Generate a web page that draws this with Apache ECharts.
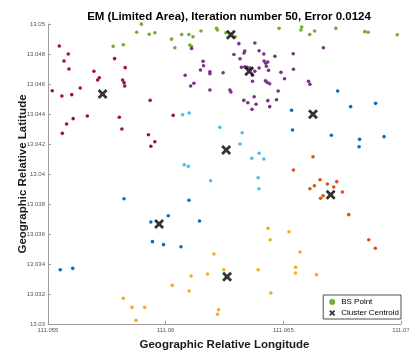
<!DOCTYPE html>
<html><head><meta charset="utf-8">
<script src="https://cdn.jsdelivr.net/npm/echarts@6/dist/echarts.min.js"></script>
<style>html,body{margin:0;padding:0;background:#fff}#c{width:409px;height:354px}</style>
</head><body><div id="c"></div>
<script>
var titleText = 'EM (Limited Area), Iteration number 50, Error 0.0124';
var xLabel = 'Geographic Relative Longitude';
var yLabel = 'Geographic Relative Latitude';
var legendNames = ['BS Point', 'Cluster Centroid'];

var greenPts = [[111.05897,13.04999],[111.05877,13.04945],[111.0593,13.04932],[111.05954,13.04942],[111.05777,13.04851],[111.0582,13.04862],[111.06025,13.04899],[111.06068,13.0493],[111.06099,13.0493],[111.06116,13.04915],[111.0615,13.04953],[111.06216,13.04971],[111.0622,13.0496],[111.06039,13.04842],[111.06103,13.04859],[111.0611,13.0485],[111.06256,13.04942],[111.06296,13.04915],[111.06482,13.04971],[111.06578,13.0498],[111.06575,13.0496],[111.06612,13.0493],[111.06633,13.04953],[111.06723,13.04971],[111.06846,13.04949],[111.0686,13.04945],[111.06984,13.04928]];

var purplePts = [[111.0611,13.04837],[111.06311,13.04869],[111.06379,13.04873],[111.0629,13.04797],[111.06336,13.0482],[111.06333,13.04807],[111.06397,13.04822],[111.06417,13.048],[111.06464,13.04785],[111.06316,13.04768],[111.06159,13.04751],[111.06161,13.04722],[111.06148,13.04693],[111.06188,13.04682],[111.06188,13.04669],[111.06244,13.04675],[111.06083,13.04658],[111.06322,13.04711],[111.06336,13.04715],[111.06346,13.04711],[111.06359,13.04707],[111.06379,13.04685],[111.06397,13.04707],[111.06418,13.04753],[111.06425,13.04738],[111.06434,13.04747],[111.06428,13.04718],[111.06437,13.04691],[111.0649,13.04678],[111.06505,13.04635],[111.06369,13.04658],[111.06369,13.04618],[111.06424,13.04622],[111.06431,13.04611],[111.06442,13.04602],[111.0612,13.04605],[111.06106,13.04587],[111.06188,13.0456],[111.06273,13.0456],[111.06277,13.04547],[111.06478,13.04553],[111.06332,13.04491],[111.06349,13.04475],[111.06376,13.04515],[111.06384,13.04465],[111.06434,13.04489],[111.06471,13.04495],[111.06367,13.04431],[111.06442,13.04449],[111.06542,13.04802],[111.0667,13.04842],[111.06543,13.04698],[111.06607,13.04618],[111.06613,13.04598]];

var redPts = [[111.05548,13.04853],[111.05586,13.048],[111.05568,13.04753],[111.05589,13.047],[111.05695,13.04685],[111.05718,13.04642],[111.05711,13.04627],[111.05783,13.04769],[111.05828,13.04709],[111.05817,13.04627],[111.05823,13.04609],[111.05826,13.04587],[111.05518,13.04555],[111.05559,13.0452],[111.05601,13.04529],[111.05637,13.04573],[111.05934,13.04491],[111.05667,13.04387],[111.05607,13.04369],[111.05579,13.04333],[111.05803,13.04378],[111.05814,13.043],[111.05561,13.04271],[111.05927,13.04262],[111.05954,13.04215],[111.05937,13.04185],[111.06032,13.04391]];

var blueEastPts = [[111.06731,13.04553],[111.06535,13.04425],[111.06786,13.04449],[111.06892,13.04471],[111.06539,13.04293],[111.06704,13.04258],[111.06824,13.04231],[111.06822,13.04182],[111.06928,13.04249]];

var blueWestPts = [[111.05823,13.03835],[111.05937,13.0368],[111.06011,13.03722],[111.05944,13.03549],[111.05991,13.03529],[111.05552,13.03362],[111.05605,13.03371],[111.06099,13.03825],[111.06144,13.03687],[111.06065,13.03515]];

var cyanPts = [[111.06072,13.04395],[111.061,13.04407],[111.0623,13.04311],[111.06325,13.04275],[111.06316,13.042],[111.06397,13.04138],[111.06366,13.04105],[111.06417,13.041],[111.06079,13.04062],[111.06096,13.04051],[111.06191,13.03955],[111.06393,13.03975],[111.06396,13.03902]];

var orangePts = [[111.06626,13.04115],[111.06543,13.04027],[111.06656,13.03962],[111.06687,13.03933],[111.06727,13.03949],[111.06714,13.03913],[111.06632,13.03922],[111.06613,13.03902],[111.06751,13.0388],[111.06669,13.03855],[111.06658,13.03838],[111.06778,13.03729],[111.06863,13.03562],[111.06891,13.03505]];

var yellowPts = [[111.0582,13.03171],[111.05857,13.03111],[111.05911,13.03111],[111.05874,13.03025],[111.06435,13.03638],[111.06524,13.03615],[111.06444,13.03562],[111.06205,13.03467],[111.06247,13.03362],[111.06178,13.03333],[111.06108,13.0332],[111.06028,13.03258],[111.061,13.0322],[111.06393,13.03362],[111.06447,13.03207],[111.06225,13.03095],[111.0622,13.03065],[111.06571,13.0348],[111.06552,13.03378],[111.06552,13.0334],[111.06641,13.03329]];

var centroidPts = [[111.06277,13.04929],[111.06355,13.04685],[111.05732,13.04533],[111.06626,13.04398],[111.06257,13.0416],[111.06701,13.03862],[111.05972,13.03667],[111.06261,13.03315]];

var xMin = 111.055, xMax = 111.07, xStep = 0.005;
var yMin = 13.03, yMax = 13.05, yStep = 0.002;

var FONT = '"Liberation Sans", Arial, Helvetica, sans-serif';
var XPATH = 'path://M0,2 L2,0 L5,3 L8,0 L10,2 L7,5 L10,8 L8,10 L5,7 L2,10 L0,8 L3,5 Z';
function fmt(v){ return String(parseFloat(v.toFixed(4))); }

function dots(name, data, color){
  return {type:'scatter', name:name, data:data, symbol:'circle', symbolSize:3.6,
    itemStyle:{color:color, opacity:1}, silent:true, z:2};
}

var chart = echarts.init(document.getElementById('c'), null, {renderer:'canvas'});
chart.setOption({
  animation:false,
  backgroundColor:'#fff',
  textStyle:{fontFamily:FONT},
  title:{text:titleText, left:224, top:6, textAlign:'center',
    textStyle:{fontSize:11.5, fontWeight:'bold', color:'#000', fontFamily:FONT}},
  grid:{left:48, right:8, top:24, bottom:30, containLabel:false, outerBoundsMode:'none'},
  legend:{
    data:[{name:'BS Point', icon:'circle'},{name:'Cluster Centroid', icon:XPATH}],
    orient:'vertical', right:8, bottom:35, itemWidth:8, itemHeight:6, itemGap:3,
    backgroundColor:'#fff', borderColor:'#222', borderWidth:0.8, borderRadius:0,
    padding:[3,2,2,6], textStyle:{fontSize:8, color:'#000', fontFamily:FONT}
  },
  xAxis:{type:'value', min:xMin, max:xMax, interval:xStep,
    name:xLabel, nameLocation:'middle', nameGap:15, nameMoveOverlap:false,
    nameTextStyle:{fontSize:11.5, fontWeight:'bold', color:'#1a1a1a', fontFamily:FONT},
    axisLine:{show:true, onZero:false, lineStyle:{color:'#9c9c9c', width:1}},
    axisTick:{show:true, inside:true, length:3, lineStyle:{color:'#9c9c9c'}},
    axisLabel:{fontSize:6, color:'#555', margin:3, formatter:fmt},
    splitLine:{show:false}},
  yAxis:{type:'value', min:yMin, max:yMax, interval:yStep,
    name:yLabel, nameLocation:'middle', nameGap:19, nameRotate:90, nameMoveOverlap:false,
    nameTextStyle:{fontSize:11.5, fontWeight:'bold', color:'#1a1a1a', fontFamily:FONT},
    axisLine:{show:true, onZero:false, lineStyle:{color:'#9c9c9c', width:1}},
    axisTick:{show:true, inside:true, length:3, lineStyle:{color:'#9c9c9c'}},
    axisLabel:{fontSize:6, color:'#555', margin:3, formatter:fmt},
    splitLine:{show:false}},
  series:[
    dots('BS Point', greenPts, '#77AC30'),
    dots('c2', purplePts, '#7E2F8E'),
    dots('c3', redPts, '#A2142F'),
    dots('c4', blueEastPts, '#0072BD'),
    dots('c5', cyanPts, '#4DBEEE'),
    dots('c6', orangePts, '#D95319'),
    dots('c7', blueWestPts, '#0072BD'),
    dots('c8', yellowPts, '#EDB120'),
    {type:'scatter', name:'Cluster Centroid', data:centroidPts, symbol:XPATH, symbolSize:10,
      itemStyle:{color:'#000'}, silent:true, z:5}
  ]
});
</script></body></html>
